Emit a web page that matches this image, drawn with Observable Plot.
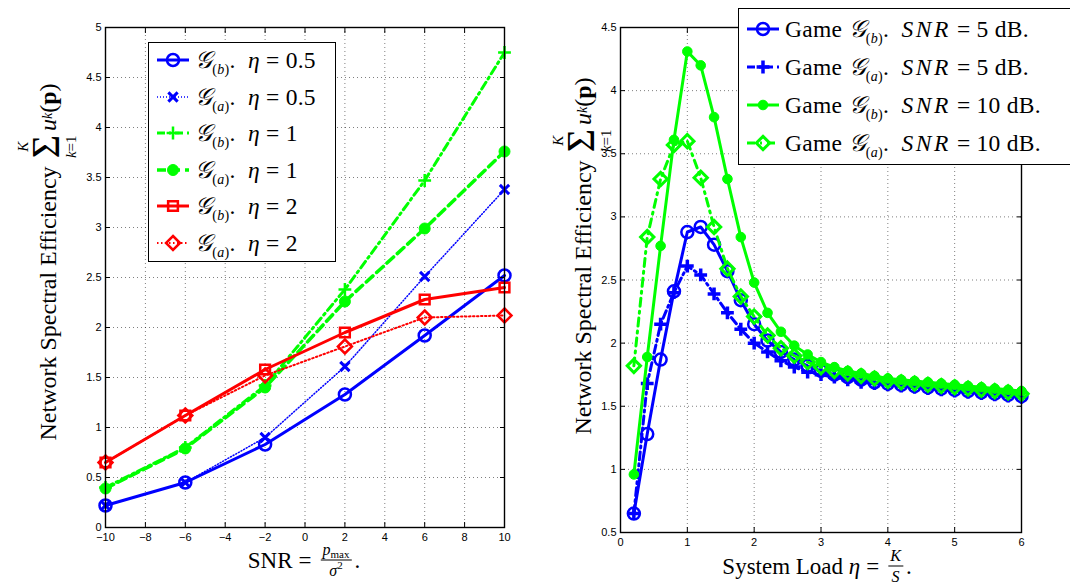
<!DOCTYPE html>
<html><head><meta charset="utf-8">
<script src="https://cdn.jsdelivr.net/npm/d3@7"></script>
<script src="https://cdn.jsdelivr.net/npm/@observablehq/plot@0.6"></script>
<style>
body{margin:0;background:#fff;}
#wrap{position:relative;width:1070px;height:583px;overflow:hidden;font-family:"Liberation Serif","DejaVu Serif",serif;color:#000;}
#wrap svg.plot{position:absolute;top:0;}
.ov{position:absolute;white-space:nowrap;line-height:1;}
.rot{transform:translate(-50%,-50%) rotate(-90deg);font-size:24px;display:flex;align-items:center;}
.ctr{transform:translate(-50%,-50%);font-size:23px;display:flex;align-items:center;}
.sumblk{display:inline-flex;flex-direction:column;align-items:center;margin:0 4px 0 8px;}
.sumblk .lim{font-size:15px;line-height:15px;height:15px;}
.sumblk .sum{font-family:"Liberation Serif",serif;font-size:40px;line-height:30px;height:30px;margin:0 0 3px;}
.frac{display:inline-flex;flex-direction:column;align-items:center;font-size:16px;margin:0 3px;vertical-align:middle;}
.frac .num{border-bottom:1px solid #000;padding:0 2px 2px;}
.frac .den{padding-top:2px;}
sub{font-size:14px;vertical-align:-6px;line-height:0;}
sup{font-size:11px;vertical-align:7px;line-height:0;}
.eq{margin:0 6px;}
.legend{position:absolute;border:1.3px solid #000;background:#fff;box-sizing:border-box;}
.row{position:absolute;left:0;height:26px;display:flex;align-items:center;font-size:23.5px;white-space:nowrap;letter-spacing:0.3px;}
.row svg{margin-right:5px;flex:none;}
.scr{font-family:"DejaVu Serif","DejaVu Sans","Noto Sans",serif;font-style:italic;font-size:24px;}
.snr{letter-spacing:2.5px;}
</style></head><body><div id="wrap"></div>
<script>
// ---------- Left panel data ----------
const snr = [-10, -6, -2, 2, 6, 10];
const gb05 = [0.22, 0.45, 0.83, 1.33, 1.92, 2.52];
const ga05 = [0.22, 0.45, 0.90, 1.61, 2.51, 3.38];
const gb1  = [0.40, 0.80, 1.42, 2.38, 3.47, 4.75];
const ga1  = [0.39, 0.79, 1.40, 2.26, 2.99, 3.76];
const gb2  = [0.65, 1.12, 1.58, 1.95, 2.28, 2.40];
const ga2  = [0.65, 1.12, 1.52, 1.81, 2.10, 2.12];
const leftXTicks = [-10, -8, -6, -4, -2, 0, 2, 4, 6, 8, 10];
const leftYTicks = [0, 0.5, 1, 1.5, 2, 2.5, 3, 3.5, 4, 4.5, 5];

// ---------- Right panel data ----------
const load = [0.2, 0.4, 0.6, 0.8, 1.0, 1.2, 1.4, 1.6, 1.8, 2.0, 2.2, 2.4, 2.6, 2.8, 3.0,
              3.2, 3.4, 3.6, 3.8, 4.0, 4.2, 4.4, 4.6, 4.8, 5.0, 5.2, 5.4, 5.6, 5.8, 6.0];
const bs5  = [0.65, 1.28, 1.87, 2.41, 2.88, 2.92, 2.78, 2.57, 2.34, 2.15, 2.02, 1.93, 1.87, 1.82, 1.78,
              1.75, 1.73, 1.71, 1.69, 1.68, 1.67, 1.66, 1.65, 1.64, 1.63, 1.62, 1.61, 1.60, 1.59, 1.58];
const as5  = [0.65, 1.68, 2.15, 2.40, 2.61, 2.54, 2.39, 2.24, 2.11, 2.00, 1.93, 1.86, 1.81, 1.77, 1.75,
              1.73, 1.71, 1.69, 1.68, 1.67, 1.66, 1.65, 1.64, 1.63, 1.62, 1.61, 1.60, 1.59, 1.58, 1.57];
const bs10 = [0.96, 1.89, 2.77, 3.61, 4.31, 4.20, 3.79, 3.30, 2.84, 2.48, 2.24, 2.09, 1.98, 1.91, 1.85,
              1.81, 1.78, 1.76, 1.74, 1.72, 1.71, 1.70, 1.69, 1.68, 1.67, 1.66, 1.65, 1.64, 1.63, 1.62];
const as10 = [1.82, 2.84, 3.30, 3.57, 3.60, 3.31, 2.92, 2.59, 2.37, 2.21, 2.06, 1.96, 1.90, 1.85, 1.81,
              1.78, 1.76, 1.74, 1.72, 1.70, 1.69, 1.68, 1.67, 1.66, 1.65, 1.64, 1.63, 1.62, 1.61, 1.60];
const rightXTicks = [0, 1, 2, 3, 4, 5, 6];
const rightYTicks = [0.5, 1, 1.5, 2, 2.5, 3, 3.5, 4, 4.5];

// ---------- Series styles ----------
const BLUE = "#0000ff", GREEN = "#00ff00", RED = "#ff0000";
const G = s => `<span class="scr">𝒢</span><sub>(<i>${s}</i>)</sub>.`;
const EQ = `<span class="eq">=</span>`;
const leftSeries = [
  {y: gb05, html: `${G("b")}&nbsp;&nbsp;<i>η</i>${EQ}0.5`, color: BLUE, lw: 3, dash: null, symbol: "circle", r: 6, fill: "none", sw: 2.5},
  {y: ga05, html: `${G("a")}&nbsp;&nbsp;<i>η</i>${EQ}0.5`, color: BLUE, lw: 1.5, dash: "1,2", symbol: "times", r: 4.3, fill: "none", sw: 3},
  {y: gb1,  html: `${G("b")}&nbsp;&nbsp;<i>η</i>${EQ}1`, color: GREEN, lw: 3, dash: "8,4,2,4", symbol: "plus", r: 4.2, fill: "none", sw: 2.5},
  {y: ga1,  html: `${G("a")}&nbsp;&nbsp;<i>η</i>${EQ}1`, color: GREEN, lw: 3.5, dash: "9,5", symbol: "circle", r: 5.5, fill: GREEN, sw: 1},
  {y: gb2,  html: `${G("b")}&nbsp;&nbsp;<i>η</i>${EQ}2`, color: RED, lw: 3, dash: null, symbol: "square", r: 5.5, fill: "none", sw: 2.5},
  {y: ga2,  html: `${G("a")}&nbsp;&nbsp;<i>η</i>${EQ}2`, color: RED, lw: 2, dash: "1.5,2.5", symbol: "diamond2", r: 6.3, fill: "none", sw: 2.5}
];
const rightSeries = [
  {y: bs5,  html: `Game ${G("b")}&nbsp;&nbsp;<i class="snr">SNR</i>${EQ}5 dB.`, color: BLUE, lw: 3, dash: null, symbol: "circle", r: 6, fill: "none", sw: 2.5},
  {y: as5,  html: `Game ${G("a")}&nbsp;&nbsp;<i class="snr">SNR</i>${EQ}5 dB.`, color: BLUE, lw: 3, dash: "8,4,2,4", symbol: "plus", r: 4.2, fill: "none", sw: 3.5},
  {y: bs10, html: `Game ${G("b")}&nbsp;&nbsp;<i class="snr">SNR</i>${EQ}10 dB.`, color: GREEN, lw: 3, dash: null, symbol: "circle", r: 4.8, fill: GREEN, sw: 1},
  {y: as10, html: `Game ${G("a")}&nbsp;&nbsp;<i class="snr">SNR</i>${EQ}10 dB.`, color: GREEN, lw: 3, dash: "8,5,2,5", symbol: "diamond2", r: 6, fill: "none", sw: 3}
];

const fmt = d => d < 0 ? "\u2212" + Math.abs(d) : String(d);

function panel({xs, series, width, marginLeft, marginRight, marginBottom, xDomain, yDomain, xTicks, yTicks}) {
  const marks = [
    Plot.gridX(xTicks, {stroke: "#000", strokeOpacity: 0.5, strokeDasharray: "1,3", strokeWidth: 1}),
    Plot.gridY(yTicks, {stroke: "#000", strokeOpacity: 0.5, strokeDasharray: "1,3", strokeWidth: 1})
  ];
  for (const s of series) {
    const data = xs.map((x, i) => ({x, y: s.y[i]}));
    marks.push(Plot.line(data, {x: "x", y: "y", stroke: s.color, strokeWidth: s.lw, strokeDasharray: s.dash || undefined, strokeLinejoin: "round"}));
    marks.push(Plot.dot(data, {x: "x", y: "y", symbol: s.symbol, r: s.r, stroke: s.color, fill: s.fill, strokeWidth: s.sw}));
  }
  marks.push(
    Plot.frame({stroke: "#000", strokeWidth: 1.4}),
    Plot.axisX({anchor: "bottom", ticks: xTicks, tickSize: -5, tickPadding: 11, tickFormat: fmt, label: null}),
    Plot.axisX({anchor: "top", ticks: xTicks, tickSize: -5, tickFormat: () => "", label: null}),
    Plot.axisY({anchor: "left", ticks: yTicks, tickSize: -5, tickPadding: 9, tickFormat: fmt, label: null}),
    Plot.axisY({anchor: "right", ticks: yTicks, tickSize: -5, tickFormat: () => "", label: null})
  );
  return Plot.plot({
    width, height: 583, marginLeft, marginRight, marginTop: 27, marginBottom,
    x: {domain: xDomain, label: null},
    y: {domain: yDomain, label: null},
    style: {fontFamily: "'Liberation Sans', Arial, sans-serif", fontSize: "11px", color: "#000", background: "transparent", overflow: "visible"},
    marks
  });
}

const wrap = document.getElementById("wrap");
const left = panel({xs: snr, series: leftSeries, width: 540, marginLeft: 105, marginRight: 36, marginBottom: 56,
  xDomain: [-10, 10], yDomain: [0, 5], xTicks: leftXTicks, yTicks: leftYTicks});
left.classList.add("plot"); left.style.left = "0px";
wrap.appendChild(left);
const right = panel({xs: load, series: rightSeries, width: 530, marginLeft: 80, marginRight: 49, marginBottom: 51,
  xDomain: [0, 6], yDomain: [0.5, 4.5], xTicks: rightXTicks, yTicks: rightYTicks});
right.classList.add("plot"); right.style.left = "540px";
wrap.appendChild(right);

function addOv(html, cls, x, y) {
  const d = document.createElement("div");
  d.className = "ov " + cls;
  d.style.left = x + "px"; d.style.top = y + "px";
  d.innerHTML = html;
  wrap.appendChild(d);
}
const ytitle = `<span>Network Spectral Efficiency</span><span class="sumblk"><span class="lim"><i>K</i></span><span class="sum">Σ</span><span class="lim"><i>k</i>=1</span></span><i>u</i><sub><i>k</i></sub>(<b>p</b>)`;
addOv(ytitle, "rot", 47, 262);
addOv(ytitle, "rot", 582, 256);
addOv(`SNR${EQ}<span class="frac"><span class="num"><i>p</i><sub style="font-size:11px;vertical-align:-3px">max</sub></span><span class="den"><i>σ</i><sup>2</sup></span></span>.`, "ctr", 304, 560);
addOv(`System Load&nbsp;<i>η</i>${EQ}<span class="frac"><span class="num"><i>K</i></span><span class="den"><i>S</i></span></span>.`, "ctr", 817, 566);

const symMap = {circle: d3.symbolCircle, times: d3.symbolTimes, plus: d3.symbolPlus, square: d3.symbolSquare, diamond2: d3.symbolDiamond2};
function legend(series, {x, y, w, h, rowTop, step}) {
  const box = document.createElement("div");
  box.className = "legend";
  Object.assign(box.style, {left: x + "px", top: y + "px", width: w + "px", height: h + "px"});
  series.forEach((s, i) => {
    const row = document.createElement("div");
    row.className = "row";
    row.style.top = (rowTop + i * step - 13) + "px";
    row.style.left = "7px";
    const svg = d3.create("svg").attr("width", 34).attr("height", 26);
    svg.append("line").attr("x1", 1).attr("x2", 33).attr("y1", 13).attr("y2", 13)
      .attr("stroke", s.color).attr("stroke-width", s.lw).attr("stroke-dasharray", s.dash);
    if (s.symbol === "circle") {
      svg.append("circle").attr("cx", 17).attr("cy", 13).attr("r", s.r).attr("fill", s.fill === "none" ? "#fff" : s.fill)
        .attr("fill-opacity", s.fill === "none" ? 0 : 1).attr("stroke", s.color).attr("stroke-width", s.sw);
    } else {
      svg.append("path").attr("transform", "translate(17,13)").attr("d", d3.symbol(symMap[s.symbol], s.r * s.r * Math.PI)())
        .attr("fill", s.fill).attr("stroke", s.color).attr("stroke-width", s.sw);
    }
    row.appendChild(svg.node());
    const t = document.createElement("span");
    t.innerHTML = s.html;
    row.appendChild(t);
    box.appendChild(row);
  });
  wrap.appendChild(box);
}
legend(leftSeries, {x: 148, y: 42, w: 188, h: 220, rowTop: 17, step: 36.6});
legend(rightSeries, {x: 738, y: 8, w: 345, h: 157, rowTop: 20, step: 38});
</script></body></html>
